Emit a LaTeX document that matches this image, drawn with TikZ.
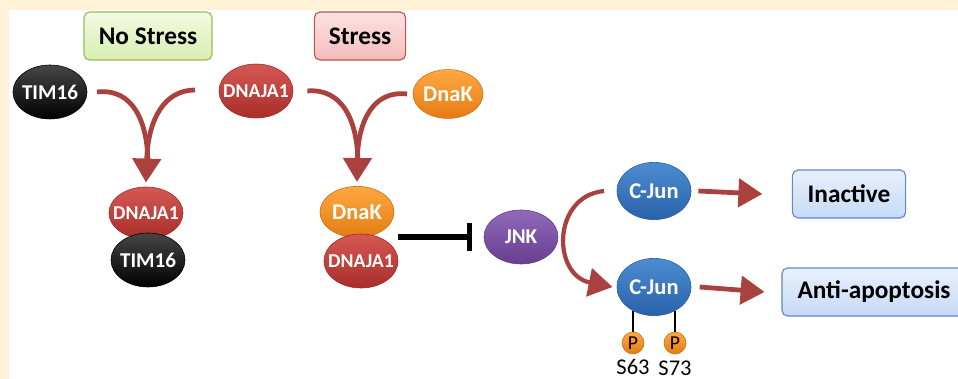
\documentclass[tikz,border=0pt]{standalone}
\usepackage{fontspec}
\setmainfont{Carlito}
\usetikzlibrary{shapes.geometric,arrows.meta,calc}

\definecolor{cream}{HTML}{FFF2D6}
\definecolor{arrowred}{HTML}{A9423E}

% zero-width label so the ellipse keeps its own size
\newcommand{\pname}[1]{\makebox[0pt]{#1}}

\tikzset{
    prot/.style={ellipse, inner sep=0pt, minimum width=1.85cm, minimum height=1.35cm,
        text=white, font=\bfseries\fontsize{15}{15}\selectfont},
    redprot/.style={prot, top color={rgb,255:red,214;green,88;blue,84}, bottom color={rgb,255:red,168;green,46;blue,42}, draw={rgb,255:red,150;green,40;blue,38}},
    blackprot/.style={prot, top color={rgb,255:red,70;green,70;blue,70}, bottom color=black, draw=black},
    orangeprot/.style={prot, top color={rgb,255:red,255;green,168;blue,66}, bottom color={rgb,255:red,228;green,124;blue,18}, draw={rgb,255:red,200;green,106;blue,16}},
    purpleprot/.style={prot, top color={rgb,255:red,144;green,106;blue,186}, bottom color={rgb,255:red,104;green,62;blue,144}, draw={rgb,255:red,96;green,58;blue,134}},
    blueprot/.style={prot, top color={rgb,255:red,76;green,140;blue,210}, bottom color={rgb,255:red,42;green,98;blue,168}, draw={rgb,255:red,40;green,90;blue,156}},
    phos/.style={circle, inner sep=0pt, minimum size=0.55cm, font=\fontsize{14}{14}\selectfont,
        top color={rgb,255:red,255;green,168;blue,66}, bottom color={rgb,255:red,228;green,124;blue,18}, draw={rgb,255:red,200;green,106;blue,16}},
    tagbox/.style={rounded corners=4pt, minimum height=1.2cm, inner sep=0pt, line width=0.8pt,
        font=\bfseries\fontsize{18}{18}\selectfont},
    bluebox/.style={tagbox, top color={rgb,255:red,232;green,240;blue,252}, bottom color={rgb,255:red,198;green,218;blue,246}, draw={rgb,255:red,96;green,136;blue,196}},
    fat/.style={draw=arrowred, line width=3.4pt},
    fatarrow/.style={fat, -{Triangle[width=20pt,length=17pt]}},
    inhibit/.style={draw=black, line width=3.6pt, -{Bar[width=20pt,line width=3.6pt]}},
    stick/.style={draw=black, line width=2pt}
}

\begin{document}
\begin{tikzpicture}[x=0.025cm, y=-0.025cm]
    \useasboundingbox (0,0) rectangle (958,379);
    \fill[white] (0,0) rectangle (958,379);
    \fill[cream] (0,0) rectangle (958,10);
    \fill[cream] (0,0) rectangle (9,379);

    % headings
    \node[tagbox, minimum width=3.2cm, top color={rgb,255:red,243;green,250;blue,226}, bottom color={rgb,255:red,216;green,238;blue,176}, draw={rgb,255:red,155;green,187;blue,89}] (nostress) at (148,36) {No Stress};
    \node[tagbox, minimum width=2.28cm, top color={rgb,255:red,252;green,226;blue,226}, bottom color={rgb,255:red,245;green,188;blue,188}, draw={rgb,255:red,192;green,80;blue,77}] (stress) at (360,36) {Stress};

    % free proteins
    \node[blackprot] (timA) at (50,92) {\pname{TIM16}};
    \node[redprot, font=\bfseries\fontsize{14}{14}\selectfont] (dnajA) at (256,91) {\pname{DNAJA1}};
    \node[orangeprot, minimum width=1.75cm, minimum height=1.22cm, font=\bfseries\fontsize{16}{16}\selectfont] (dnakA) at (448,94) {\pname{DnaK}};

    % complexes
    \node[redprot, minimum height=1.3cm, font=\bfseries\fontsize{14}{14}\selectfont] (dnajB) at (146,213) {\pname{DNAJA1}};
    \node[blackprot] (timB) at (148,260) {\pname{TIM16}};
    \node[orangeprot, minimum height=1.28cm, font=\bfseries\fontsize{16}{16}\selectfont] (dnakB) at (357,212) {\pname{DnaK}};
    \node[redprot, font=\bfseries\fontsize{14}{14}\selectfont] (dnajC) at (361,261) {\pname{DNAJA1}};

    % JNK pathway
    \node[purpleprot] (jnk) at (521,237) {\pname{JNK}};
    \node[blueprot, minimum height=1.43cm, font=\bfseries\fontsize{16}{16}\selectfont] (cjunA) at (654,191) {\pname{C-Jun}};
    \node[blueprot, minimum height=1.43cm, font=\bfseries\fontsize{16}{16}\selectfont] (cjunB) at (654,287) {\pname{C-Jun}};
    \node[phos] (pA) at (633,343) {P};
    \node[phos] (pB) at (675,343) {P};
    \node[font=\fontsize{16}{16}\selectfont] (sA) at (633,367) {S63};
    \node[font=\fontsize{16}{16}\selectfont] (sB) at (675,368) {S73};
    \draw[stick] (pA.north) -- (pA.north |- cjunB.228);
    \draw[stick] (pB.north) -- (pB.north |- cjunB.312);

    % outcomes
    \node[bluebox, minimum width=2.83cm] (inactive) at (849,194) {Inactive};
    \node[bluebox, minimum width=4.6cm] (anti) at (874,292) {Anti-apoptosis};

    % merging arrows
    \coordinate (nsL) at ([xshift=7pt]timA.east);
    \coordinate (nsR) at (195,90);
    \coordinate (stL) at ([xshift=10pt]dnajA.east);
    \coordinate (stR) at ([xshift=-4pt]dnakA.west);
    \draw[fat] (nsL) .. controls (132,88) and (148,120) .. (148,165);
    \draw[fatarrow] (nsR) .. controls (164,90) and (148,120) .. ([yshift=3pt]dnajB.north);
    \draw[fat] (stL) .. controls (342,88) and (358,120) .. (358,165);
    \draw[fatarrow] (stR) .. controls (374,90) and (358,120) .. ([yshift=3pt]dnakB.north);

    \draw[inhibit] (dnajC.east |- jnk.west) -- ([xshift=-8pt]jnk.west);

    \draw[fatarrow, line width=3pt] ([xshift=-9pt]cjunA.west) .. controls (552,196) and (552,275) .. ([xshift=-3pt]cjunB.west);
    \draw[fatarrow] ([xshift=5pt]cjunA.east) -- ([xshift=-21pt]inactive.west);
    \draw[fatarrow] ([xshift=6pt]cjunB.east) -- ([xshift=-12pt]anti.west);
\end{tikzpicture}
\end{document}
